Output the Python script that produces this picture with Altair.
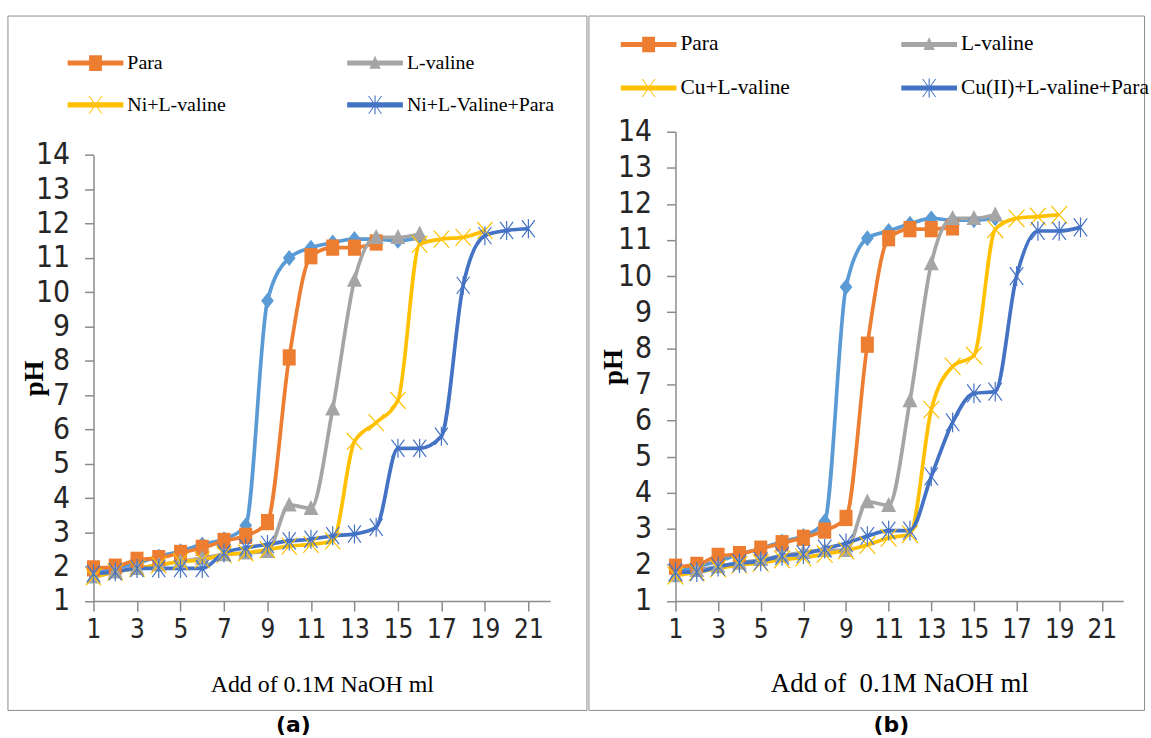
import altair as alt
import pandas as pd

# ---------------- data ----------------
X_TICKS = [1, 3, 5, 7, 9, 11, 13, 15, 17, 19, 21]
Y_TICKS = list(range(1, 15))

NAMES_A = ["HL", "Para", "L-valine", "Ni+L-valine", "Ni+L-Valine+Para"]
NAMES_B = ["HL", "Para", "L-valine", "Cu+L-valine", "Cu(II)+L-valine+Para"]

HL_A = [1.8, 1.95, 2.1, 2.3, 2.45, 2.65, 2.8, 3.2, 9.75, 11.0, 11.3, 11.45, 11.55, 11.55, 11.5, 11.6]
PARA_A = [1.95, 2.0, 2.2, 2.25, 2.4, 2.55, 2.75, 2.9, 3.3, 8.1, 11.05, 11.3, 11.3, 11.45]
LVAL_A = [1.7, 1.85, 1.95, 2.05, 2.15, 2.25, 2.35, 2.4, 2.45, 3.8, 3.7, 6.6, 10.35, 11.6, 11.6, 11.7]
NI_A = [1.7, 1.85, 1.95, 2.05, 2.15, 2.2, 2.35, 2.4, 2.5, 2.6, 2.65, 2.75, 5.65, 6.2, 6.85, 11.4, 11.55, 11.6, 11.8]
NIP_A = [1.8, 1.85, 1.95, 1.95, 1.95, 1.95, 2.4, 2.55, 2.65, 2.75, 2.8, 2.9, 2.95, 3.15, 5.45, 5.45, 5.8, 10.2, 11.65, 11.8, 11.85]

HL_B = [1.8, 1.95, 2.1, 2.3, 2.45, 2.65, 2.8, 3.2, 9.7, 11.05, 11.25, 11.45, 11.6, 11.55, 11.55, 11.6]
PARA_B = [1.95, 2.0, 2.25, 2.3, 2.45, 2.6, 2.75, 2.95, 3.3, 8.1, 11.05, 11.3, 11.3, 11.35]
LVAL_B = [1.7, 1.85, 1.95, 2.05, 2.15, 2.25, 2.35, 2.4, 2.4, 3.75, 3.65, 6.55, 10.35, 11.6, 11.6, 11.7]
CU_B = [1.7, 1.8, 1.9, 2.0, 2.05, 2.15, 2.2, 2.3, 2.4, 2.55, 2.75, 2.85, 6.3, 7.5, 7.8, 11.3, 11.6, 11.65, 11.7]
CUP_B = [1.8, 1.8, 1.95, 2.05, 2.1, 2.25, 2.3, 2.45, 2.6, 2.8, 2.95, 2.95, 4.45, 5.95, 6.75, 6.8, 10.0, 11.25, 11.25, 11.35]

COLORS = ["#5B9BD5", "#ED7D31", "#A5A5A5", "#FFC000", "#4472C4"]

# ---------------- styles ----------------
GRAY = "#8c8c8c"
NARROW = "Liberation Sans Narrow, DejaVu Sans Condensed, sans-serif"
SERIF = "Liberation Serif, Times New Roman, serif"

DIAMOND = "M0,-1L0.8,0L0,1L-0.8,0Z"
SQUARE = "M-0.8,-1L0.8,-1L0.8,1L-0.8,1Z"
TRIANGLE = "M0,-1L0.9,0.8L-0.9,0.8Z"
XMARK = "M-0.9,-1L0.9,1M-0.9,1L0.9,-1"
STAR = "M-0.75,-1L0.75,1M-0.75,1L0.75,-1M0,-1.1L0,1.1"

BAR = "M-1,-0.09L1,-0.09L1,0.09L-1,0.09Z"
LEG_SQUARE = BAR + "M-0.23,-0.28L0.23,-0.28L0.23,0.28L-0.23,0.28Z"
LEG_TRI = BAR + "M0,-0.27L0.2,0.2L-0.2,0.2Z"
LEG_X = BAR + ("M-0.25,-0.32L-0.21,-0.32L0.25,0.32L0.21,0.32Z"
               "M0.21,-0.32L0.25,-0.32L-0.21,0.32L-0.25,0.32Z")
LEG_STAR = LEG_X + "M-0.02,-0.34L0.02,-0.34L0.02,0.34L-0.02,0.34Z"

PLOT_H = 471.7


def panel(names, series, width, y_range, leg_x, leg_y, leg_font, col_pad,
          row_pad, xtitle, xtitle_size, ptitle_x, ptitle_y, box, tag, tag_x, tag_y):
    rows = []
    for name, vals in zip(names, series):
        for i, v in enumerate(vals):
            rows.append({"series": name, "x": i + 1, "pH": v})
    df = pd.DataFrame(rows)
    base = alt.Chart(df)

    xenc = alt.X(
        "x:Q",
        scale=alt.Scale(domain=[1, 22], nice=False, zero=False),
        title=xtitle,
        axis=alt.Axis(
            values=X_TICKS, grid=False, tickSize=10, tickColor=GRAY, tickWidth=1.5,
            domainColor=GRAY, domainWidth=1.5, labelFont=NARROW, labelFontSize=26,
            labelColor="#262626", labelPadding=6, labelFlush=False, labelOverlap=False,
            titleFont=SERIF, titleFontSize=xtitle_size, titleFontWeight="normal",
            titleColor="#000000", titleX=width / 2, titleY=91, titleAlign="center",
            titleBaseline="alphabetic",
        ),
    )
    yenc = alt.Y(
        "pH:Q",
        scale=alt.Scale(domain=[1, 14], range=y_range, nice=False, zero=False),
        title="pH",
        axis=alt.Axis(
            values=Y_TICKS, grid=False, tickSize=9, tickColor=GRAY, tickWidth=1.5,
            domainColor=GRAY, domainWidth=1.5, labelFont=NARROW, labelFontSize=30,
            labelColor="#262626", labelPadding=15, labelOverlap=False,
            titleFont=SERIF, titleFontSize=27, titleFontWeight="bold",
            titleColor="#000000", titleX=ptitle_x, titleY=ptitle_y, titleAngle=270,
            titleAlign="center", titleBaseline="middle",
        ),
    )
    color_all = alt.Scale(domain=names, range=COLORS)
    shape_all = alt.Scale(domain=names, range=[DIAMOND, SQUARE, TRIANGLE, XMARK, STAR])
    size_all = alt.Scale(domain=names, range=[256, 324, 324, 400, 400])

    lines = base.mark_line(interpolate="monotone", strokeWidth=3.7).encode(
        x=xenc, y=yenc, color=alt.Color("series:N", scale=color_all, legend=None),
    )
    filled = base.transform_filter(
        alt.FieldOneOfPredicate(field="series", oneOf=names[:3])
    ).mark_point(filled=True, opacity=1).encode(
        x=xenc, y=yenc,
        color=alt.Color("series:N", scale=color_all, legend=None),
        shape=alt.Shape("series:N", scale=shape_all, legend=None),
        size=alt.Size("series:N", scale=size_all, legend=None),
    )
    stroked = base.transform_filter(
        alt.FieldOneOfPredicate(field="series", oneOf=names[3:])
    ).mark_point(filled=False, opacity=1, strokeWidth=1.2).encode(
        x=xenc, y=yenc,
        color=alt.Color("series:N", scale=color_all, legend=None),
        shape=alt.Shape("series:N", scale=shape_all, legend=None),
        size=alt.Size("series:N", scale=size_all, legend=None),
    )
    # legend entries fill column by column: Para, <complex 1>, L-valine, <complex 2>
    leg_names = [names[1], names[3], names[2], names[4]]
    leg_colors = [COLORS[1], COLORS[3], COLORS[2], COLORS[4]]
    leg_shapes = [LEG_SQUARE, LEG_X, LEG_TRI, LEG_STAR]
    leg = alt.Legend(
        title=None, orient="none", legendX=leg_x, legendY=leg_y, columns=2,
        symbolSize=3136, symbolStrokeWidth=0, labelFont=SERIF, labelFontSize=leg_font,
        labelColor="#000000", labelOffset=4, labelLimit=400, columnPadding=col_pad,
        rowPadding=row_pad, padding=0, values=leg_names,
    )
    legend_layer = base.transform_filter("false").mark_point(filled=True, opacity=1).encode(
        x=xenc, y=yenc,
        color=alt.Color("series:N", scale=alt.Scale(domain=leg_names, range=leg_colors), legend=leg),
        shape=alt.Shape("series:N", scale=alt.Scale(domain=leg_names, range=leg_shapes), legend=leg),
    )

    one = pd.DataFrame({"k": [0]})
    border = alt.Chart(one).mark_rect(fill="white", fillOpacity=0, stroke=GRAY, strokeWidth=1).encode(
        x=alt.value(box[0]), x2=alt.value(box[1]), y=alt.value(box[2]), y2=alt.value(box[3]),
    )
    label = alt.Chart(one).mark_text(
        text=tag, font="DejaVu Sans", fontWeight="bold", fontSize=22,
        align="center", baseline="middle", color="#000000",
    ).encode(x=alt.value(tag_x), y=alt.value(tag_y))

    return alt.layer(border, lines, filled, stroked, legend_layer, label).resolve_scale(
        color="independent", shape="independent"
    ).properties(width=width, height=PLOT_H)


pa = panel(
    NAMES_A, [HL_A, PARA_A, LVAL_A, NI_A, NIP_A], 459, [PLOT_H, 23.4],
    leg_x=-26, leg_y=-97, leg_font=20, col_pad=121, row_pad=4,
    xtitle="Add of 0.1M NaOH ml", xtitle_size=24, ptitle_x=-59, ptitle_y=247.5,
    box=(-86, 496, -116.3, 581.7), tag="(a)", tag_x=201, tag_y=596.7,
)
pb = panel(
    NAMES_B, [HL_B, PARA_B, LVAL_B, CU_B, CUP_B], 450, [PLOT_H, 0],
    leg_x=-55, leg_y=-116, leg_font=21.5, col_pad=111, row_pad=5,
    xtitle="Add of \u00a00.1M NaOH ml", xtitle_size=27, ptitle_x=-62, ptitle_y=236,
    box=(-87, 471.5, -116.3, 581.7), tag="(b)", tag_x=217, tag_y=596.7,
)

chart = alt.hconcat(pa, pb, spacing=0).configure_view(stroke="transparent").properties(
    padding={"left": 7, "top": 12.5, "right": 0, "bottom": 0},
    background="white",
)

chart.save("out.html", embed_options={"renderer": "svg", "actions": False})
